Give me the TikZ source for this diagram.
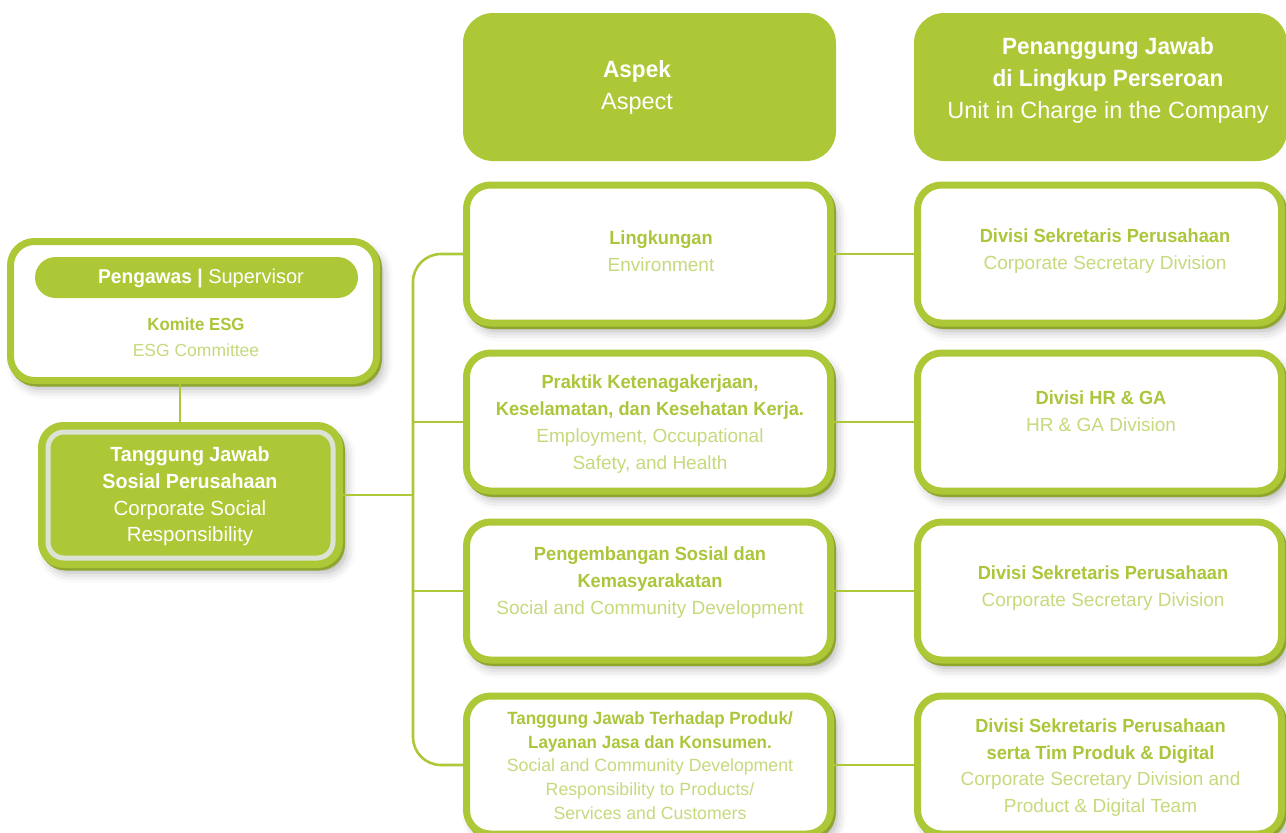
\documentclass[tikz,border=0pt]{standalone}
\usepackage{fontspec}
\setmainfont{Liberation Sans}[BoldFeatures={FakeStretch=0.96}]
\usetikzlibrary{shadows,shadows.blur}
\definecolor{grn}{RGB}{173,200,55}
\definecolor{dkgrn}{RGB}{143,166,46}
\definecolor{bgrn}{RGB}{170,198,58}
\definecolor{lgrn}{RGB}{197,218,125}
\definecolor{ringgray}{RGB}{220,227,213}
\newcommand\gbold[1]{\textcolor{bgrn}{\bfseries #1}}
\newcommand\greg[1]{\textcolor{lgrn}{#1}}
\newcommand\wbold[1]{\textcolor{white}{\bfseries #1}}
\newcommand\wreg[1]{\textcolor{white}{#1}}
\begin{document}
\begin{tikzpicture}[x=1pt,y=-1pt,
  shadowed/.style={blur shadow={shadow xshift=6pt, shadow yshift=-8pt, shadow blur radius=10pt, shadow opacity=32},
    copy shadow={shadow xshift=2pt, shadow yshift=-2.5pt, draw=dkgrn, fill=dkgrn}},
  box/.style={shadowed, draw=grn, fill=white, line width=7pt, rounded corners=24pt,
    minimum width=364pt, minimum height=138pt, inner sep=0pt},
  hdr/.style={fill=grn, rounded corners=30pt, minimum width=373pt, minimum height=148pt, inner sep=0pt},
  txt/.style={align=center, inner sep=0pt, font=\fontsize{19}{27}\selectfont},
  htxt/.style={align=center, inner sep=0pt, font=\fontsize{23.5}{32}\selectfont},
  conn/.style={draw=grn, line width=2.6pt}
]
\useasboundingbox (0,0) rectangle (1286,833);

% headers
\node[hdr] (h1) at (649.5,87) {};
\node[htxt] (h1t) at (637,87.5) {\wbold{Aspek}\\\wreg{Aspect}};
\node[hdr] (h2) at (1100.5,87) {};
\node[htxt] (h2t) at (1108,80.5) {\wbold{Penanggung Jawab}\\\wbold{di Lingkup Perseroan}\\\wreg{Unit in Charge in the Company}};

% supervisor
\node[box, minimum width=366pt, minimum height=139pt] (sup) at (193.5,311) {};
\node[fill=grn, rounded corners=20.5pt, minimum width=323pt, minimum height=41pt, inner sep=0pt] (pill) at (196.5,277.5) {};
\node[txt, font=\fontsize{20}{26}\selectfont] (pillt) at (201,278.5) {\wbold{Pengawas |} \wreg{Supervisor}};
\node[txt, font=\fontsize{17.5}{26}\selectfont] (supt) at (196,337) {\gbold{Komite ESG}\\\greg{ESG Committee}};

% CSR
\node[shadowed, draw=grn, fill=grn, line width=7pt, rounded corners=22pt, minimum width=298pt, minimum height=139pt, inner sep=0pt] (csr) at (190.5,495) {};
\draw[draw=ringgray, line width=5pt, rounded corners=16pt] ([shift={(10,10)}]csr.north west) rectangle ([shift={(-10,-10)}]csr.south east);
\node[txt, font=\fontsize{20.5}{26.7}\selectfont] (csrt) at (190,496.5) {\wbold{Tanggung Jawab}\\\wbold{Sosial Perusahaan}\\\wreg{Corporate Social}\\\wreg{Responsibility}};

% aspect boxes
\node[box] (a1) at (648.5,254) {};
\node[box] (a2) at (648.5,422) {};
\node[box] (a3) at (648.5,591) {};
\node[box] (a4) at (648.5,765) {};
\node[box] (b1) at (1099.5,254) {};
\node[box] (b2) at (1099.5,422) {};
\node[box] (b3) at (1099.5,591) {};
\node[box] (b4) at (1099.5,765) {};

\node[txt] (a1t) at (661,251) {\gbold{Lingkungan}\\\greg{Environment}};
\node[txt] (a2t) at (650,424) {\gbold{Praktik Ketenagakerjaan,}\\\gbold{Keselamatan, dan Kesehatan Kerja.}\\\greg{Employment, Occupational}\\\greg{Safety, and Health}};
\node[txt] (a3t) at (650,583) {\gbold{Pengembangan Sosial dan}\\\gbold{Kemasyarakatan}\\\greg{Social and Community Development}};
\node[txt, font=\fontsize{17.7}{23.7}\selectfont] (a4t) at (650,765.5) {\gbold{Tanggung Jawab Terhadap Produk/}\\\gbold{Layanan Jasa dan Konsumen.}\\\greg{Social and Community Development}\\\greg{Responsibility to Products/}\\\greg{Services and Customers}};

\node[txt] (b1t) at (1105,251) {\gbold{Divisi Sekretaris Perusahaan}\\\greg{Corporate Secretary Division}};
\node[txt] (b2t) at (1101,411) {\gbold{Divisi HR \& GA}\\\greg{HR \& GA Division}};
\node[txt] (b3t) at (1103,588) {\gbold{Divisi Sekretaris Perusahaan}\\\greg{Corporate Secretary Division}};
\node[txt, font=\fontsize{19}{26.5}\selectfont] (b4t) at (1100.5,767.5) {\gbold{Divisi Sekretaris Perusahaan}\\\gbold{serta Tim Produk \& Digital}\\\greg{Corporate Secretary Division and}\\\greg{Product \& Digital Team}};

% connectors
\coordinate (bus) at (413,0);
\coordinate (vx) at (180,0);
\draw[conn] (sup.south -| vx) -- (csr.north -| vx);
\draw[conn, rounded corners=28pt] (a1.west) -| (bus |- a4.west) -- (a4.west);
\draw[conn] (csr.east) -- (bus |- csr.east);
\draw[conn] (bus |- a2.west) -- (a2.west);
\draw[conn] (bus |- a3.west) -- (a3.west);
\draw[conn] (a1.east) -- (b1.west);
\draw[conn] (a2.east) -- (b2.west);
\draw[conn] (a3.east) -- (b3.west);
\draw[conn] (a4.east) -- (b4.west);
\end{tikzpicture}
\end{document}
